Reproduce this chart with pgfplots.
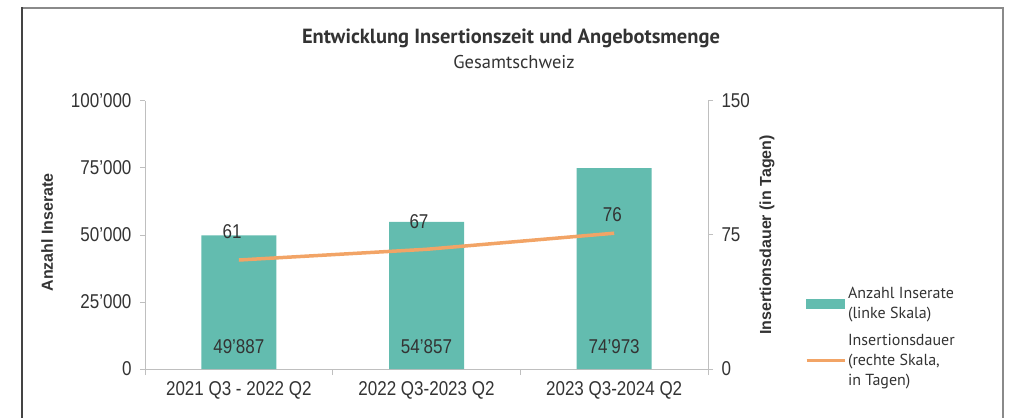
\documentclass[border=0pt]{standalone}
\usepackage{pgfplots}
\pgfplotsset{compat=1.18}
\usepackage{fontspec}
\setmainfont{Liberation Sans}
\newfontfamily\narrow[FakeStretch=0.85]{Liberation Sans}
\newfontfamily\ptsans{PT Sans}
\definecolor{mybar}{HTML}{63BCAF}
\definecolor{myorange}{HTML}{F2A466}
\definecolor{txt}{HTML}{333333}
\definecolor{axgray}{HTML}{BFBFBF}
\definecolor{frameL}{HTML}{444444}
\definecolor{frameR}{HTML}{8A8A8A}
\begin{document}
\begin{tikzpicture}[x=1pt,y=1pt]
\useasboundingbox (0,0) rectangle (1009,418);
\draw[frameR, line width=1.5pt] (22,410) -- (1003,410);
\draw[frameR, line width=2pt] (1003,410.75) -- (1003,0);
\draw[frameL, line width=1.5pt] (22,410.75) -- (22,0);
\node[font=\ptsans\bfseries\fontsize{20.5}{24}\selectfont, text=txt] at (511,380) {Entwicklung Insertionszeit und Angebotsmenge};
\node[font=\ptsans\fontsize{18.5}{22}\selectfont, text=txt] at (514,356) {Gesamtschweiz};
\begin{axis}[at={(145pt,49pt)}, anchor=south west, scale only axis,
  width=563pt, height=268pt,
  xmin=-0.5, xmax=2.5, ymin=0, ymax=100000,
  scaled y ticks=false,
  axis x line*=bottom, axis y line*=left,
  axis line style={axgray, line width=1pt, -},
  xtick={0,1,2},
  xticklabels={2021 Q3 - 2022 Q2, 2022 Q3-2023 Q2, 2023 Q3-2024 Q2},
  minor xtick={-0.5,0.5,1.5,2.5},
  major x tick style={draw=none},
  minor tick length=6pt,
  ytick={0,25000,50000,75000,100000},
  yticklabels={0,25’000,50’000,75’000,100’000},
  tick align=outside, major tick length=5pt,
  tick style={axgray, line width=1pt},
  ticklabel style={font=\narrow\fontsize{20}{24}\selectfont, text=txt},
  yticklabel style={xshift=-5pt},
  xticklabel style={yshift=-4pt},
  ylabel={Anzahl Inserate},
  ylabel style={font=\bfseries\fontsize{16}{19}\selectfont, text=txt, at={(axis description cs:-0.174,0.51)}, anchor=center},
]
\addplot[ybar, bar width=75pt, fill=mybar, draw=none] coordinates {(0,49887) (1,54857) (2,74973)};
\addplot[draw=none, mark=none, nodes near coords, point meta=explicit symbolic,
  every node near coord/.append style={anchor=center, yshift=22pt, font=\narrow\fontsize{20}{24}\selectfont, text=txt}]
  coordinates {(0,0) [49’887] (1,0) [54’857] (2,0) [74’973]};
\end{axis}
\begin{axis}[at={(145pt,49pt)}, anchor=south west, scale only axis,
  width=563pt, height=268pt,
  xmin=-0.5, xmax=2.5, ymin=0, ymax=150,
  axis y line*=right, axis x line=none,
  axis line style={axgray, line width=1pt, -},
  ytick={0,75,150}, yticklabels={0,75,150},
  tick align=outside, major tick length=5pt,
  tick style={axgray, line width=1pt},
  ticklabel style={font=\narrow\fontsize{20}{24}\selectfont, text=txt},
  yticklabel style={xshift=5pt},
  ylabel={Insertionsdauer (in Tagen)},
  ylabel style={font=\bfseries\fontsize{16}{19}\selectfont, text=txt, at={(axis description cs:1.105,0.5)}, anchor=center},
  legend style={at={(axis description cs:1.172,0.313)}, anchor=north west, draw=none, fill=none,
    inner sep=0pt, row sep=10pt, font=\ptsans\fontsize{16}{20}\selectfont, text=txt,
    cells={align=left}},
  legend cell align=left,
]
\addlegendimage{legend image code/.code={\fill[mybar] (0pt,-4.5pt) rectangle (38pt,4.5pt);}}
\addlegendentry{Anzahl Inserate\\(linke Skala)}
\addplot[myorange, line width=3.5pt, mark=none,
  legend image code/.code={\draw[myorange, line width=3pt] (0pt,0pt) -- (38pt,0pt);}]
  coordinates {(0,61) (1,67) (2,76)};
\addlegendentry{Insertionsdauer\\(rechte Skala,\\in Tagen)}
\addplot[draw=none, mark=none, nodes near coords, point meta=explicit symbolic, forget plot,
  every node near coord/.append style={anchor=center, font=\narrow\fontsize{20}{24}\selectfont, text=txt}]
  coordinates {(-0.036,76.7) [61] (0.96,82.3) [67] (1.99,86.2) [76]};
\end{axis}
\end{tikzpicture}
\end{document}
